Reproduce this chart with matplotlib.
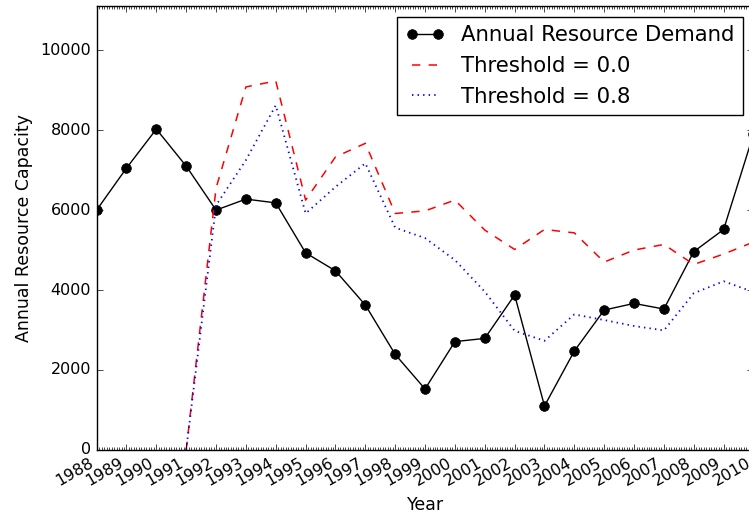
import numpy as np
import matplotlib
matplotlib.use('Agg')
import matplotlib.pyplot as plt
from matplotlib.ticker import MultipleLocator

nan = np.nan

years = [1988, 1989, 1990, 1991, 1992, 1993, 1994, 1995, 1996, 1997, 1998, 1999,
         2000, 2001, 2002, 2003, 2004, 2005, 2006, 2007, 2008, 2009, 2010]

demand = [6000, 7050, 8025, 7100, 6000, 6275, 6180, 4930, 4480, 3625, 2390, 1525,
          2710, 2790, 3875, 1100, 2475, 3500, 3665, 3525, 4960, 5515, 7900]

capacity_t00 = [nan, nan, nan, 0, 6550, 9080, 9230, 6250, 7330, 7670, 5915, 5980,
                6250, 5500, 5015, 5515, 5430, 4700, 5000, 5140, 4640, 4900, 5200]

capacity_t08 = [nan, nan, nan, 0, 6120, 7250, 8620, 5915, 6580, 7170, 5560, 5300,
                4750, 3960, 2980, 2730, 3390, 3250, 3100, 2990, 3920, 4220, 3950]


plt.style.use('classic')
plt.rcParams['figure.facecolor'] = 'white'
plt.rcParams['savefig.facecolor'] = 'white'

fig = plt.figure(figsize=(7.49, 5.16), dpi=100)
ax = fig.add_axes([0.129, 0.128, 0.877, 0.860])

ax.plot(years, demand, 'ko-', markersize=7, linewidth=1.0, label='Annual Resource Demand')
ax.plot(years, capacity_t00, 'r--', linewidth=1.1, label='Threshold = 0.0')
ax.plot(years, capacity_t08, 'b:', linewidth=1.3, label='Threshold = 0.8')

ax.set_xlim(1988, 2010)
ax.set_ylim(0, 11100)
ax.set_xticks(years)
ax.set_xticklabels([str(y) for y in years], rotation=30, ha='right', fontsize=11.5)
ax.xaxis.set_minor_locator(MultipleLocator(1.0 / 12))
ax.set_yticks([0, 2000, 4000, 6000, 8000, 10000])
ax.tick_params(axis='y', labelsize=11.5)

ax.set_xlabel('Year', fontsize=12.5)
ax.set_ylabel('Annual Resource Capacity', fontsize=12.5)

leg = ax.legend(loc='upper right', fontsize=15.3, numpoints=2, fancybox=False,
                handlelength=1.8)
leg.get_frame().set_edgecolor('black')

fig.savefig('out.png', dpi=100)
